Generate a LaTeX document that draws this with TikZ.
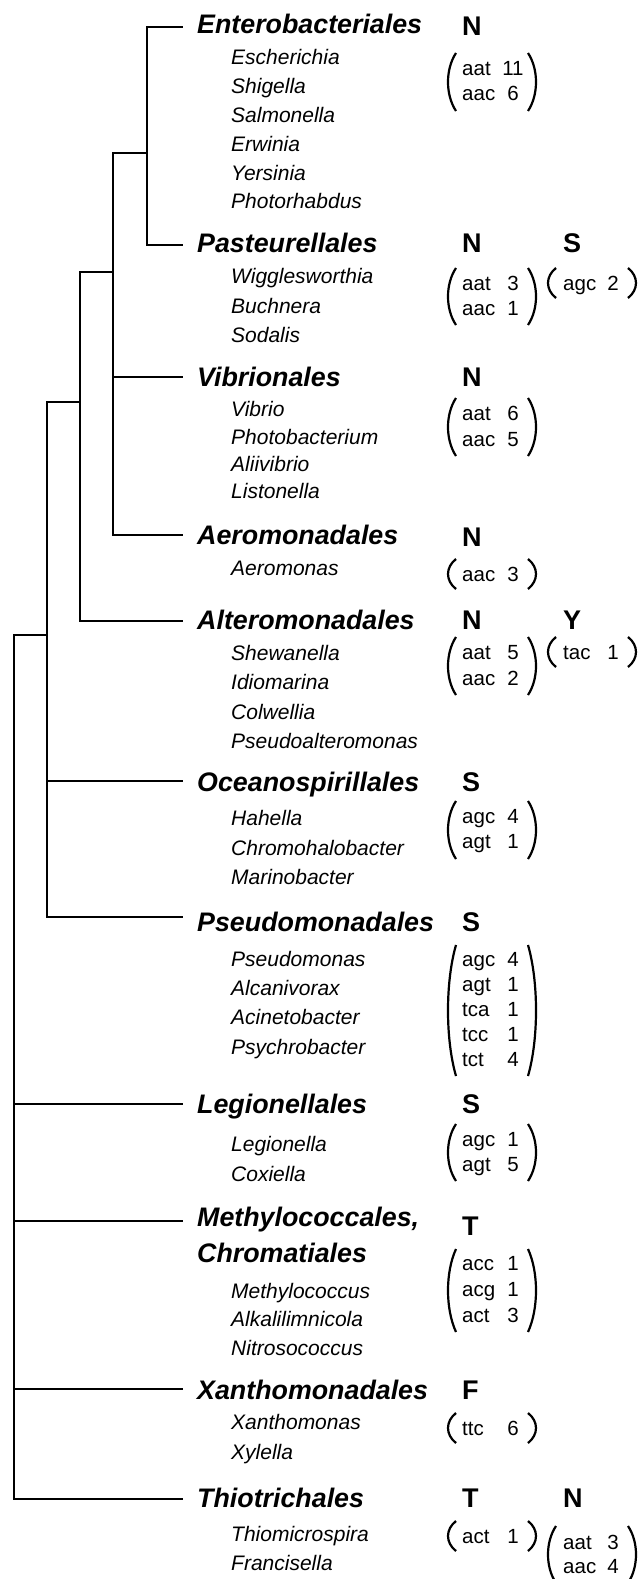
\documentclass[tikz,border=0pt]{standalone}
\usepackage{fontspec}
\setmainfont{Liberation Sans}
\tikzset{
  tree/.style={line width=2.5pt, line cap=rect},
  order/.style={anchor=base west, inner sep=0pt, font=\fontsize{26.8}{30}\selectfont\bfseries\itshape},
  genus/.style={anchor=base west, inner sep=0pt, font=\fontsize{21}{25}\selectfont\itshape},
  aa/.style={anchor=base west, inner sep=0pt, font=\fontsize{27}{30}\selectfont\bfseries},
  codon/.style={anchor=base west, inner sep=0pt, font=\fontsize{20.5}{25}\selectfont},
  num/.style={anchor=base, inner sep=0pt, font=\fontsize{20.5}{25}\selectfont},
  paren/.style={line width=2.2pt},
}
% #1 outer x of left paren, #2 outer x of right paren, #3 top, #4 bottom
\newcommand\mybrk[4]{%
  \pgfmathsetmacro\mya{#3+0.28*(#4-#3)}%
  \pgfmathsetmacro\myb{#4-0.28*(#4-#3)}%
  \draw[paren] ({#1+8},#3) .. controls ({#1-2.67},\mya) and ({#1-2.67},\myb) .. ({#1+8},#4);
  \draw[paren] ({#2-8},#3) .. controls ({#2+2.67},\mya) and ({#2+2.67},\myb) .. ({#2-8},#4);
}
\begin{document}
\begin{tikzpicture}[x=1pt,y=-1pt]
\useasboundingbox (0,0) rectangle (638,1579);

% ---------- leaf ends of the tree ----------
\coordinate (lEnt) at (182,27);
\coordinate (lPas) at (182,245);
\coordinate (lVib) at (182,377);
\coordinate (lAer) at (182,535);
\coordinate (lAlt) at (182,621);
\coordinate (lOce) at (182,781);
\coordinate (lPse) at (182,917);
\coordinate (lLeg) at (182,1104);
\coordinate (lMet) at (182,1221);
\coordinate (lXan) at (182,1389);
\coordinate (lThi) at (182,1499);
% ---------- internal nodes ----------
\coordinate (n1) at (147,153);
\coordinate (n1a) at (113,153);
\coordinate (n2) at (113,272);
\coordinate (n2a) at (80,272);
\coordinate (n3) at (80,402);
\coordinate (n3a) at (47,402);
\coordinate (n4) at (47,635);
\coordinate (n4a) at (14,635);

\draw[tree] (lEnt) -| (n1) |- (lPas);
\draw[tree] (n1) -- (n1a) |- (lAer);
\draw[tree] (lVib) -- (lVib -| n1a);
\draw[tree] (n2) -- (n2a) |- (lAlt);
\draw[tree] (n3) -- (n3a) |- (lPse);
\draw[tree] (lOce) -- (lOce -| n3a);
\draw[tree] (n4) -- (n4a) |- (lThi);
\draw[tree] (lLeg) -- (lLeg -| n4a);
\draw[tree] (lMet) -- (lMet -| n4a);
\draw[tree] (lXan) -- (lXan -| n4a);

% ---------- Enterobacteriales ----------
\node[order] (oEnt) at (197,34) {Enterobacteriales};
\node[aa] (aEnt) at (462,36) {N};
\node[genus] (g1) at (231,64) {Escherichia};
\node[genus] (g2) at (231,93) {Shigella};
\node[genus] (g3) at (231,122) {Salmonella};
\node[genus] (g4) at (231,151) {Erwinia};
\node[genus] (g5) at (231,180) {Yersinia};
\node[genus] (g6) at (231,208) {Photorhabdus};
\mybrk{448}{536}{53}{111}
\node[codon] (cEnt1) at (462,75) {aat}; \node[num] (nEnt1) at (513,75) {11};
\node[codon] (cEnt2) at (462,100) {aac}; \node[num] (nEnt2) at (513,100) {6};

% ---------- Pasteurellales ----------
\node[order] (oPas) at (197,252) {Pasteurellales};
\node[aa] (aPas1) at (462,252) {N};
\node[aa] (aPas2) at (563,252) {S};
\node[genus] (g7) at (231,283) {Wigglesworthia};
\node[genus] (g8) at (231,313) {Buchnera};
\node[genus] (g9) at (231,342) {Sodalis};
\mybrk{448}{536}{268}{325}
\node[codon] (cPas1) at (462,290) {aat}; \node[num] (nPas1) at (513,290) {3};
\node[codon] (cPas2) at (462,315) {aac}; \node[num] (nPas2) at (513,315) {1};
\mybrk{548}{636}{268}{298}
\node[codon] (cPas3) at (563,290) {agc}; \node[num] (nPas3) at (613,290) {2};

% ---------- Vibrionales ----------
\node[order] (oVib) at (197,386) {Vibrionales};
\node[aa] (aVib) at (462,386) {N};
\node[genus] (g10) at (231,416) {Vibrio};
\node[genus] (g11) at (231,444) {Photobacterium};
\node[genus] (g12) at (231,471) {Aliivibrio};
\node[genus] (g13) at (231,498) {Listonella};
\mybrk{448}{536}{398}{456}
\node[codon] (cVib1) at (462,420) {aat}; \node[num] (nVib1) at (513,420) {6};
\node[codon] (cVib2) at (462,446) {aac}; \node[num] (nVib2) at (513,446) {5};

% ---------- Aeromonadales ----------
\node[order] (oAer) at (197,544) {Aeromonadales};
\node[aa] (aAer) at (462,546) {N};
\node[genus] (g14) at (231,575) {Aeromonas};
\mybrk{448}{536}{559}{589}
\node[codon] (cAer1) at (462,581) {aac}; \node[num] (nAer1) at (513,581) {3};

% ---------- Alteromonadales ----------
\node[order] (oAlt) at (197,629) {Alteromonadales};
\node[aa] (aAlt1) at (462,629) {N};
\node[aa] (aAlt2) at (563,629) {Y};
\node[genus] (g15) at (231,660) {Shewanella};
\node[genus] (g16) at (231,689) {Idiomarina};
\node[genus] (g17) at (231,719) {Colwellia};
\node[genus] (g18) at (231,748) {Pseudoalteromonas};
\mybrk{448}{536}{637}{695}
\node[codon] (cAlt1) at (462,659) {aat}; \node[num] (nAlt1) at (513,659) {5};
\node[codon] (cAlt2) at (462,685) {aac}; \node[num] (nAlt2) at (513,685) {2};
\mybrk{548}{636}{637}{667}
\node[codon] (cAlt3) at (563,659) {tac}; \node[num] (nAlt3) at (613,659) {1};

% ---------- Oceanospirillales ----------
\node[order] (oOce) at (197,791) {Oceanospirillales};
\node[aa] (aOce) at (462,791) {S};
\node[genus] (g19) at (231,825) {Hahella};
\node[genus] (g20) at (231,855) {Chromohalobacter};
\node[genus] (g21) at (231,884) {Marinobacter};
\mybrk{448}{536}{801}{859}
\node[codon] (cOce1) at (462,823) {agc}; \node[num] (nOce1) at (513,823) {4};
\node[codon] (cOce2) at (462,848) {agt}; \node[num] (nOce2) at (513,848) {1};

% ---------- Pseudomonadales ----------
\node[order] (oPse) at (197,931) {Pseudomonadales};
\node[aa] (aPse) at (462,931) {S};
\node[genus] (g22) at (231,966) {Pseudomonas};
\node[genus] (g23) at (231,995) {Alcanivorax};
\node[genus] (g24) at (231,1024) {Acinetobacter};
\node[genus] (g25) at (231,1054) {Psychrobacter};
\mybrk{448}{536}{945}{1076}
\node[codon] (cPse1) at (462,966) {agc}; \node[num] (nPse1) at (513,966) {4};
\node[codon] (cPse2) at (462,991) {agt}; \node[num] (nPse2) at (513,991) {1};
\node[codon] (cPse3) at (462,1016) {tca}; \node[num] (nPse3) at (513,1016) {1};
\node[codon] (cPse4) at (462,1041) {tcc}; \node[num] (nPse4) at (513,1041) {1};
\node[codon] (cPse5) at (462,1066) {tct}; \node[num] (nPse5) at (513,1066) {4};

% ---------- Legionellales ----------
\node[order] (oLeg) at (197,1113) {Legionellales};
\node[aa] (aLeg) at (462,1113) {S};
\node[genus] (g26) at (231,1151) {Legionella};
\node[genus] (g27) at (231,1181) {Coxiella};
\mybrk{448}{536}{1124}{1181}
\node[codon] (cLeg1) at (462,1146) {agc}; \node[num] (nLeg1) at (513,1146) {1};
\node[codon] (cLeg2) at (462,1171) {agt}; \node[num] (nLeg2) at (513,1171) {5};

% ---------- Methylococcales, Chromatiales ----------
\node[order] (oMet) at (197,1226) {Methylococcales,};
\node[order] (oChr) at (197,1262) {Chromatiales};
\node[aa] (aMet) at (462,1235) {T};
\node[genus] (g28) at (231,1298) {Methylococcus};
\node[genus] (g29) at (231,1326) {Alkalilimnicola};
\node[genus] (g30) at (231,1355) {Nitrosococcus};
\mybrk{448}{536}{1249}{1332}
\node[codon] (cMet1) at (462,1270) {acc}; \node[num] (nMet1) at (513,1270) {1};
\node[codon] (cMet2) at (462,1296) {acg}; \node[num] (nMet2) at (513,1296) {1};
\node[codon] (cMet3) at (462,1322) {act}; \node[num] (nMet3) at (513,1322) {3};

% ---------- Xanthomonadales ----------
\node[order] (oXan) at (197,1399) {Xanthomonadales};
\node[aa] (aXan) at (462,1399) {F};
\node[genus] (g31) at (231,1429) {Xanthomonas};
\node[genus] (g32) at (231,1459) {Xylella};
\mybrk{448}{536}{1413}{1443}
\node[codon] (cXan1) at (462,1435) {ttc}; \node[num] (nXan1) at (513,1435) {6};

% ---------- Thiotrichales ----------
\node[order] (oThi) at (197,1507) {Thiotrichales};
\node[aa] (aThi1) at (462,1507) {T};
\node[aa] (aThi2) at (563,1507) {N};
\node[genus] (g33) at (231,1541) {Thiomicrospira};
\node[genus] (g34) at (231,1570) {Francisella};
\mybrk{448}{536}{1521}{1551}
\node[codon] (cThi1) at (462,1543) {act}; \node[num] (nThi1) at (513,1543) {1};
\mybrk{548}{636}{1526}{1583}
\node[codon] (cThi2) at (563,1549) {aat}; \node[num] (nThi2) at (613,1549) {3};
\node[codon] (cThi3) at (563,1573) {aac}; \node[num] (nThi3) at (613,1573) {4};
\end{tikzpicture}
\end{document}
